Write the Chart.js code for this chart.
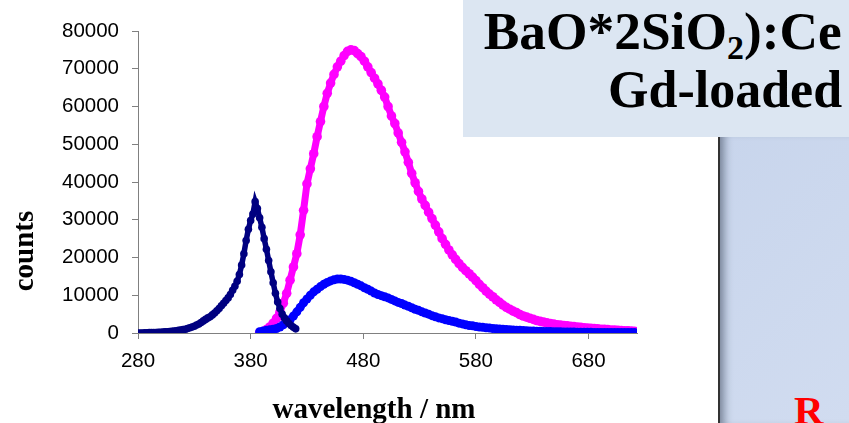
<!DOCTYPE html>
<html><head><meta charset="utf-8">
<script src="https://cdn.jsdelivr.net/npm/chart.js@4.4.1/dist/chart.umd.min.js"></script>
<style>
html,body{margin:0;padding:0;background:#fff;}
#wrap{position:relative;width:849px;height:423px;overflow:hidden;background:#fff;}
#c{position:absolute;left:0;top:0;}
#box{position:absolute;left:463px;top:0;width:386px;height:137px;background:#dce6f2;}
.t{position:absolute;right:7px;font-family:"Liberation Serif","Times New Roman",serif;font-weight:bold;font-size:52px;line-height:52px;white-space:nowrap;color:#000;transform-origin:right center;}
.sub{font-size:33px;position:relative;top:10px;}
#panel{position:absolute;left:718px;top:137px;width:129px;height:286px;background:linear-gradient(135deg,#c8d5ec,#d1dcf0);border-left:2px solid #333;box-shadow:inset 10px 0 8px -6px rgba(50,60,80,.55);overflow:hidden;}
#r{position:absolute;left:74px;top:253px;color:#ff0000;font:bold 41px/40px "Liberation Serif","Times New Roman",serif;}
</style></head>
<body>
<div id="wrap">
<canvas id="c" width="849" height="423"></canvas>
<div id="box">
<div class="t" id="l1" style="top:6px">BaO*2SiO<span class="sub">2</span>):Ce</div>
<div class="t" id="l2" style="top:64px">Gd-loaded</div>
</div>
<div id="panel"><div id="r">R</div></div>
</div>
<script>
const xTitle = 'wavelength / nm';
const yTitle = 'counts';
const xTickValues = [280, 380, 480, 580, 680];
const yTickValues = [0, 10000, 20000, 30000, 40000, 50000, 60000, 70000, 80000];

const excitationWavelengths = [280,282,284,286,288,290,292,294,296,298,300,302,304,306,308,310,312,314,316,318,320,322,324,326,328,330,332,334,336,338,340,342,344,346,348,350,352,354,356,358,360,362,364,366,368,370,372,374,376,378,380,382,384,386,388,390,392,394,396,398,400,402,404,406,408,410,412,414,416,418,420];
const excitationCounts = [0,0,0,50,50,100,100,150,150,200,200,250,300,350,400,450,500,600,700,800,900,1000,1200,1400,1600,1800,2100,2400,2800,3200,3600,4000,4300,4800,5300,5900,6500,7200,7900,8600,9300,10200,11300,12400,13700,15500,18000,21000,24500,27500,29800,31500,34800,33000,30500,28000,25000,22200,19200,16200,13300,10500,8200,6500,5000,4000,3200,2500,2000,1500,1100];

const emissionWavelengths = [388,391,394,397,400,403,406,409,412,415,418,421,424,427,430,433,436,439,442,445,448,451,454,457,460,463,466,469,472,475,478,481,484,487,490,493,496,499,502,505,508,511,514,517,520,523,526,529,532,535,538,541,544,547,550,553,556,559,562,565,568,571,574,577,580,583,586,589,592,595,598,601,604,607,610,613,616,619,622,625,628,631,634,637,640,643,646,649,652,655,658,661,664,667,670,673,676,679,682,685,688,691,694,697,700,703,706,709,712,715,718,721];
const magentaCounts = [100,400,900,1600,2600,3900,5500,7900,10500,14000,17500,21000,26000,32500,39500,43500,47500,52000,56000,60000,63500,66200,68500,70500,72000,73500,74600,75000,74800,74000,73200,72000,70500,69000,67500,66000,64300,62500,60000,57500,55500,53000,50500,48000,45200,42300,39800,37500,35500,33800,32000,30300,28600,26800,25000,23500,22000,20700,19500,18400,17400,16500,15700,14800,13900,12900,12000,11100,10300,9600,8800,8100,7400,6800,6300,5800,5400,4900,4500,4200,3900,3600,3300,3100,2900,2700,2500,2400,2200,2100,2000,1900,1800,1700,1600,1500,1400,1300,1250,1150,1100,1000,950,900,800,750,700,650,600,550,500,450];
const blueCounts = [350,500,700,850,1000,1200,1600,2200,2800,3500,4500,5600,6800,8000,9000,10000,10900,11600,12300,12900,13400,13800,14100,14300,14300,14200,14000,13700,13300,12900,12500,12000,11600,11100,10600,10200,9900,9600,9300,8900,8500,8100,7800,7400,7100,6700,6300,6000,5600,5300,5000,4600,4300,4000,3800,3500,3300,3100,2900,2600,2400,2200,2000,1900,1700,1600,1500,1400,1300,1200,1100,1050,1000,900,850,800,750,700,650,600,550,520,480,450,420,400,370,350,330,300,280,260,250,240,220,200,190,180,170,160,150,140,130,120,115,110,105,100,100,100,100,100];

function pts(xs, ys){ return xs.map((x,i)=>({x:x, y:ys[i]})); }

const axisTitles = {
  id:'axisTitles',
  afterDraw(chart){
    const {ctx, chartArea:a} = chart;
    ctx.save();
    ctx.fillStyle = '#000';
    ctx.font = 'bold 29px "Liberation Serif", "Times New Roman", serif';
    ctx.textAlign = 'center';
    ctx.textBaseline = 'alphabetic';
    ctx.fillText(xTitle, a.left + 236, a.bottom + 85);
    ctx.translate(a.left - 105, a.bottom - 82);
    ctx.rotate(-Math.PI/2);
    ctx.fillText(yTitle, 0, 0);
    ctx.restore();
  }
};

const tickFont = {family:'"Liberation Sans", Arial, sans-serif', size:20.5};

new Chart(document.getElementById('c'), {
  type:'scatter',
  data:{datasets:[
    {label:'excitation', data:pts(excitationWavelengths, excitationCounts), showLine:true,
     borderColor:'#000080', backgroundColor:'#000080', borderWidth:5.5, pointRadius:3.8, pointBorderWidth:0, order:1},
    {label:'emission (Gd)', data:pts(emissionWavelengths, blueCounts), showLine:true,
     borderColor:'#0000ff', backgroundColor:'#0000ff', borderWidth:7, pointRadius:4.5, pointBorderWidth:0, order:2},
    {label:'emission', data:pts(emissionWavelengths, magentaCounts), showLine:true,
     borderColor:'#ff00ff', backgroundColor:'#ff00ff', borderWidth:7, pointRadius:4.8, pointBorderWidth:0, order:3}
  ]},
  options:{
    responsive:false, animation:false, devicePixelRatio:1,
    layout:{padding:{left:0, right:212, top:31, bottom:0}},
    plugins:{legend:{display:false}, tooltip:{enabled:false}},
    scales:{
      x:{type:'linear', min:280, max:723,
        afterBuildTicks(s){ s.ticks = xTickValues.map(v=>({value:v})); },
        afterFit(s){ s.height = 90; },
        grid:{drawOnChartArea:false, drawTicks:true, tickLength:6, color:'#808080'},
        border:{display:true, color:'#808080', width:1},
        ticks:{font:tickFont, color:'#000', padding:10, maxRotation:0, callback:v=>String(v)}
      },
      y:{type:'linear', min:0, max:80000,
        afterBuildTicks(s){ s.ticks = yTickValues.map(v=>({value:v})); },
        afterFit(s){ s.width = 138; },
        grid:{drawOnChartArea:false, drawTicks:true, tickLength:6, color:'#808080'},
        border:{display:true, color:'#808080', width:1},
        ticks:{font:tickFont, color:'#000', padding:13, callback:v=>String(v)}
      }
    }
  },
  plugins:[axisTitles]
});

function fit(id, w){
  const el = document.getElementById(id);
  const nat = el.getBoundingClientRect().width;
  el.style.transform = 'scaleX(' + (w/nat) + ')';
}
fit('l1', 358);
fit('l2', 234);
</script>
</body></html>
